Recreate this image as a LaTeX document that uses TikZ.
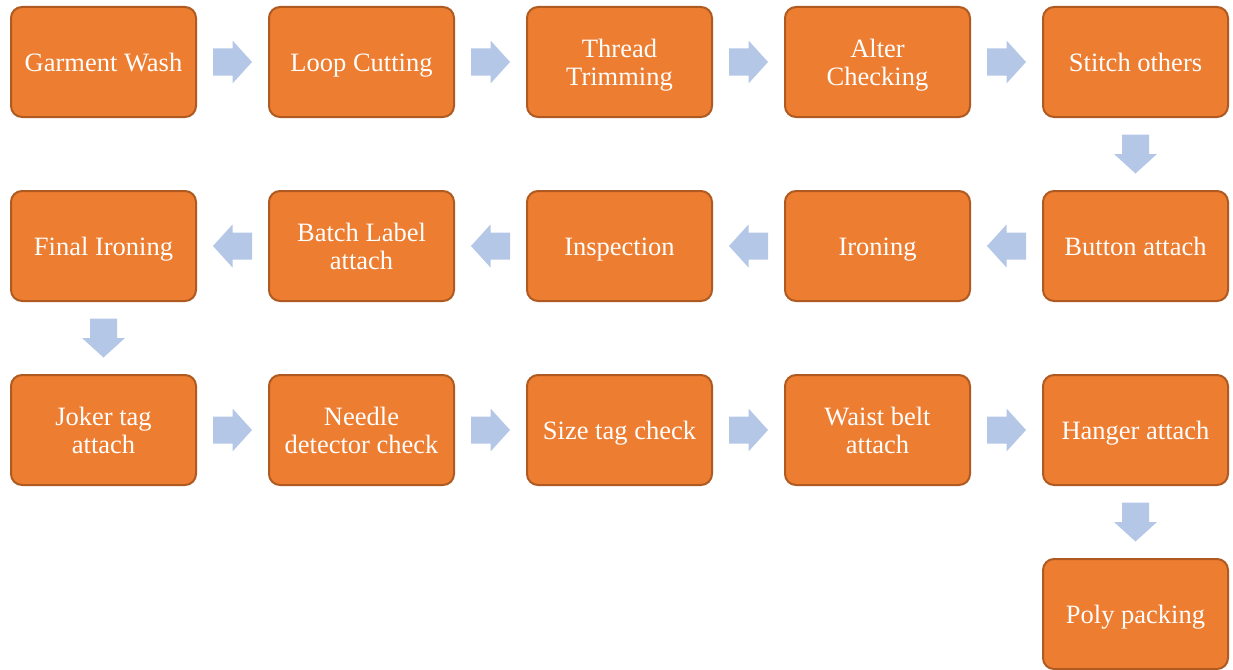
\documentclass[tikz,border=0pt]{standalone}
\usepackage{fontspec}
\setmainfont{Liberation Serif}
\usetikzlibrary{calc}
\definecolor{boxfill}{HTML}{ED7D31}
\definecolor{boxline}{HTML}{AE5A21}
\definecolor{arrowfill}{HTML}{B4C7E7}
\tikzset{
  stepbox/.style={draw=boxline, fill=boxfill, line width=2pt, rounded corners=11pt,
    minimum width=185pt, minimum height=110pt, align=center,
    inner sep=0pt, text=white, font=\rmfamily\fontsize{26.5}{28}\selectfont,
    execute at begin node={\rule{0pt}{24pt}},
    execute at end node={\rule[-5pt]{0pt}{5pt}}},
  % two-line labels sit a little lower
  pairbox/.style={stepbox, execute at end node={}, text depth=0pt},
  flowarrow/.style={fill=arrowfill, draw=none}
}
% block arrow centred between two steps, pointing in direction #3
\newcommand\flowstep[3]{%
  \path[flowarrow, shift={($(#1)!0.5!(#2)$)}, rotate=#3]
    (-19.5pt,-13.5pt) -- (0pt,-13.5pt) -- (0pt,-21.5pt) -- (19.5pt,0pt)
    -- (0pt,21.5pt) -- (0pt,13.5pt) -- (-19.5pt,13.5pt) -- cycle;}
\begin{document}
\begin{tikzpicture}[x=1pt,y=1pt]
\useasboundingbox (0,0) rectangle (1233,-669);
% row 1
\node[stepbox] (s1) at (103.5,-62) {Garment Wash};
\node[stepbox] (s2) at (361.5,-62) {Loop Cutting};
\node[pairbox] (s3) at (619.5,-62) {Thread\\Trimming};
\node[pairbox] (s4) at (877.5,-62) {Alter\\Checking};
\node[stepbox] (s5) at (1135.5,-62) {Stitch others};
% row 2
\node[stepbox] (s6) at (1135.5,-246) {Button attach};
\node[stepbox] (s7) at (877.5,-246) {Ironing};
\node[stepbox] (s8) at (619.5,-246) {Inspection};
\node[pairbox] (s9) at (361.5,-246) {Batch Label\\attach};
\node[stepbox] (s10) at (103.5,-246) {Final Ironing};
% row 3
\node[pairbox] (s11) at (103.5,-430) {Joker tag\\attach};
\node[pairbox] (s12) at (361.5,-430) {Needle\\detector check};
\node[stepbox] (s13) at (619.5,-430) {Size tag check};
\node[pairbox] (s14) at (877.5,-430) {Waist belt\\attach};
\node[stepbox] (s15) at (1135.5,-430) {Hanger attach};
% row 4
\node[stepbox] (s16) at (1135.5,-614) {Poly packing};
% arrows
\flowstep{s1}{s2}{0}
\flowstep{s2}{s3}{0}
\flowstep{s3}{s4}{0}
\flowstep{s4}{s5}{0}
\flowstep{s5}{s6}{-90}
\flowstep{s6}{s7}{180}
\flowstep{s7}{s8}{180}
\flowstep{s8}{s9}{180}
\flowstep{s9}{s10}{180}
\flowstep{s10}{s11}{-90}
\flowstep{s11}{s12}{0}
\flowstep{s12}{s13}{0}
\flowstep{s13}{s14}{0}
\flowstep{s14}{s15}{0}
\flowstep{s15}{s16}{-90}
\end{tikzpicture}
\end{document}
